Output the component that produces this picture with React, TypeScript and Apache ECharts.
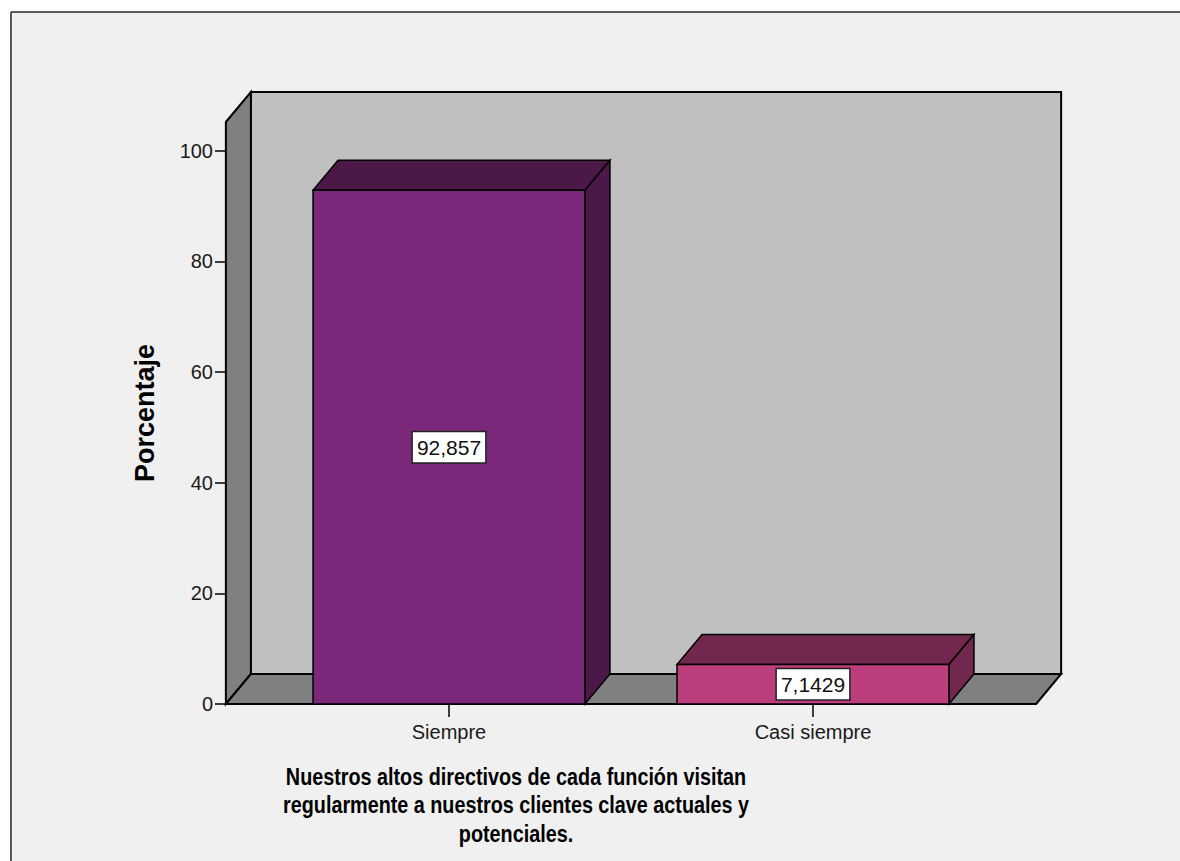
import React, { useEffect, useRef } from "react";
import * as echarts from "echarts";

// ---- data ----
const categories: string[] = ["Siempre", "Casi siempre"];
const percentages: number[] = [92.857, 7.1429];
const yTicks: number[] = [0, 20, 40, 60, 80, 100];
const yMax = 105.2;
const yAxisName = "Porcentaje";
const titleLines: string[] = [
  "Nuestros altos directivos de cada función visitan",
  "regularmente a nuestros clientes clave actuales y",
  "potenciales.",
];

// ---- style ----
const FONT = "'Liberation Sans', Arial, Helvetica, sans-serif";
const barFront = ["#7b287b", "#bc3e7c"];
const barShade = ["#4b1848", "#72284e"];
const DEPTH_X = 25;
const DEPTH_Y = -30;
const BAR_FRAC = 0.747;
const OUTER_PAD = 0.613;

const fmt = (v: number) => String(v).replace(".", ",");

export default function App() {
  const ref = useRef<HTMLDivElement>(null);

  useEffect(() => {
    if (!ref.current) return;
    const chart = echarts.init(ref.current, null, { renderer: "svg" });

    const wallStyle = (fill: string) => ({ fill, stroke: "#000", lineWidth: 2 });

    const wallsSeries = {
      type: "custom",
      clip: false,
      silent: true,
      z: 1,
      encode: { x: 0, y: 1 },
      data: [[0, 0]],
      renderItem: (params: any, api: any) => {
        const cs = params.coordSys;
        const band = api.size([1, 0])[0];
        const c0 = api.coord([0, 0]);
        const c1 = api.coord([categories.length - 1, 0]);
        const xL = c0[0] - band * OUTER_PAD;
        const xR = c1[0] + band * OUTER_PAD;
        const yB = c0[1];
        const yT = cs.y;
        return {
          type: "group",
          children: [
            {
              type: "polygon",
              shape: {
                points: [
                  [xL + DEPTH_X, yT + DEPTH_Y],
                  [xR + DEPTH_X, yT + DEPTH_Y],
                  [xR + DEPTH_X, yB + DEPTH_Y],
                  [xL + DEPTH_X, yB + DEPTH_Y],
                ],
              },
              style: wallStyle("#c0c0c0"),
            },
            {
              type: "polygon",
              shape: {
                points: [
                  [xL, yT],
                  [xL + DEPTH_X, yT + DEPTH_Y],
                  [xL + DEPTH_X, yB + DEPTH_Y],
                  [xL, yB],
                ],
              },
              style: wallStyle("#808080"),
            },
            {
              type: "polygon",
              shape: {
                points: [
                  [xL, yB],
                  [xL + DEPTH_X, yB + DEPTH_Y],
                  [xR + DEPTH_X, yB + DEPTH_Y],
                  [xR, yB],
                ],
              },
              style: wallStyle("#808080"),
            },
          ],
        };
      },
    };

    const barsSeries = {
      type: "custom",
      clip: false,
      silent: true,
      z: 3,
      encode: { x: 0, y: 1 },
      data: percentages.map((v, i) => [i, v]),
      renderItem: (params: any, api: any) => {
        const i = params.dataIndex;
        const xi = api.value(0);
        const v = api.value(1);
        const band = api.size([1, 0])[0];
        const top = api.coord([xi, v]);
        const base = api.coord([xi, 0]);
        const w = band * BAR_FRAC;
        const x0 = top[0] - w / 2;
        const x1 = top[0] + w / 2;
        const yT = top[1];
        const yB = base[1];
        const edge = { stroke: "#000", lineWidth: 1.5 };
        return {
          type: "group",
          children: [
            {
              type: "polygon",
              shape: {
                points: [
                  [x0, yT],
                  [x0 + DEPTH_X, yT + DEPTH_Y],
                  [x1 + DEPTH_X, yT + DEPTH_Y],
                  [x1, yT],
                ],
              },
              style: { fill: barShade[i], ...edge },
            },
            {
              type: "polygon",
              shape: {
                points: [
                  [x1, yT],
                  [x1 + DEPTH_X, yT + DEPTH_Y],
                  [x1 + DEPTH_X, yB + DEPTH_Y],
                  [x1, yB],
                ],
              },
              style: { fill: barShade[i], ...edge },
            },
            {
              type: "rect",
              shape: { x: x0, y: yT, width: w, height: yB - yT },
              style: { fill: barFront[i], ...edge },
            },
            {
              type: "text",
              x: top[0],
              y: (yT + yB) / 2,
              style: {
                text: fmt(v),
                x: 0,
                y: 0,
                align: "center",
                verticalAlign: "middle",
                textAlign: "center",
                textVerticalAlign: "middle",
                fontSize: 21,
                fontFamily: FONT,
                fill: "#111",
                backgroundColor: "#ffffff",
                borderColor: "#222",
                borderWidth: 1.5,
                padding: [5, 4, 4, 4],
              },
            },
          ],
        };
      },
    };

    chart.setOption({
      animation: false,
      backgroundColor: "#ffffff",
      grid: { left: 267, right: 185, top: 122, bottom: 157 },
      xAxis: {
        type: "category",
        data: categories,
        axisLine: { show: false },
        axisTick: {
          show: true,
          alignWithLabel: true,
          length: 13,
          lineStyle: { color: "#000", width: 1.5 },
        },
        axisLabel: { margin: 18, fontSize: 20, fontFamily: FONT, color: "#1a1a1a" },
        splitLine: { show: false },
      },
      yAxis: {
        type: "value",
        min: 0,
        max: yMax,
        offset: 41,
        axisLine: { show: false },
        axisTick: {
          show: true,
          length: 11,
          customValues: yTicks,
          lineStyle: { color: "#000", width: 1.5 },
        },
        axisLabel: {
          customValues: yTicks,
          margin: 13,
          fontSize: 20,
          fontFamily: FONT,
          color: "#1a1a1a",
        },
        splitLine: { show: false },
        name: yAxisName,
        nameLocation: "middle",
        nameRotate: 90,
        nameGap: 68,
        nameTextStyle: { fontSize: 27, fontWeight: "bold", fontFamily: FONT, color: "#000" },
      },
      graphic: [
        {
          type: "rect",
          z: -10,
          shape: { x: 11, y: 12, width: 1200, height: 900 },
          style: { fill: "#f0f0f0" },
        },
        {
          type: "line",
          z: -9,
          shape: { x1: 11, y1: 12, x2: 1200, y2: 12 },
          style: { stroke: "#5a5a5a", lineWidth: 2 },
        },
        {
          type: "line",
          z: -9,
          shape: { x1: 11, y1: 12, x2: 11, y2: 900 },
          style: { stroke: "#5a5a5a", lineWidth: 2 },
        },
        ...titleLines.map((t, k) => ({
          type: "text",
          z: 10,
          x: 516,
          y: 777 + k * 28.5,
          scaleX: 0.86,
          style: {
            text: t,
            x: 0,
            y: 0,
            textAlign: "center",
            textVerticalAlign: "middle",
            fontSize: 23,
            fontWeight: "bold",
            fontFamily: FONT,
            fill: "#000",
          },
        })),
      ],
      series: [wallsSeries, barsSeries],
    });

    return () => chart.dispose();
  }, []);

  return (
    <div
      ref={ref}
      style={{ position: "fixed", left: 0, top: 0, width: 1180, height: 861 }}
    />
  );
}
